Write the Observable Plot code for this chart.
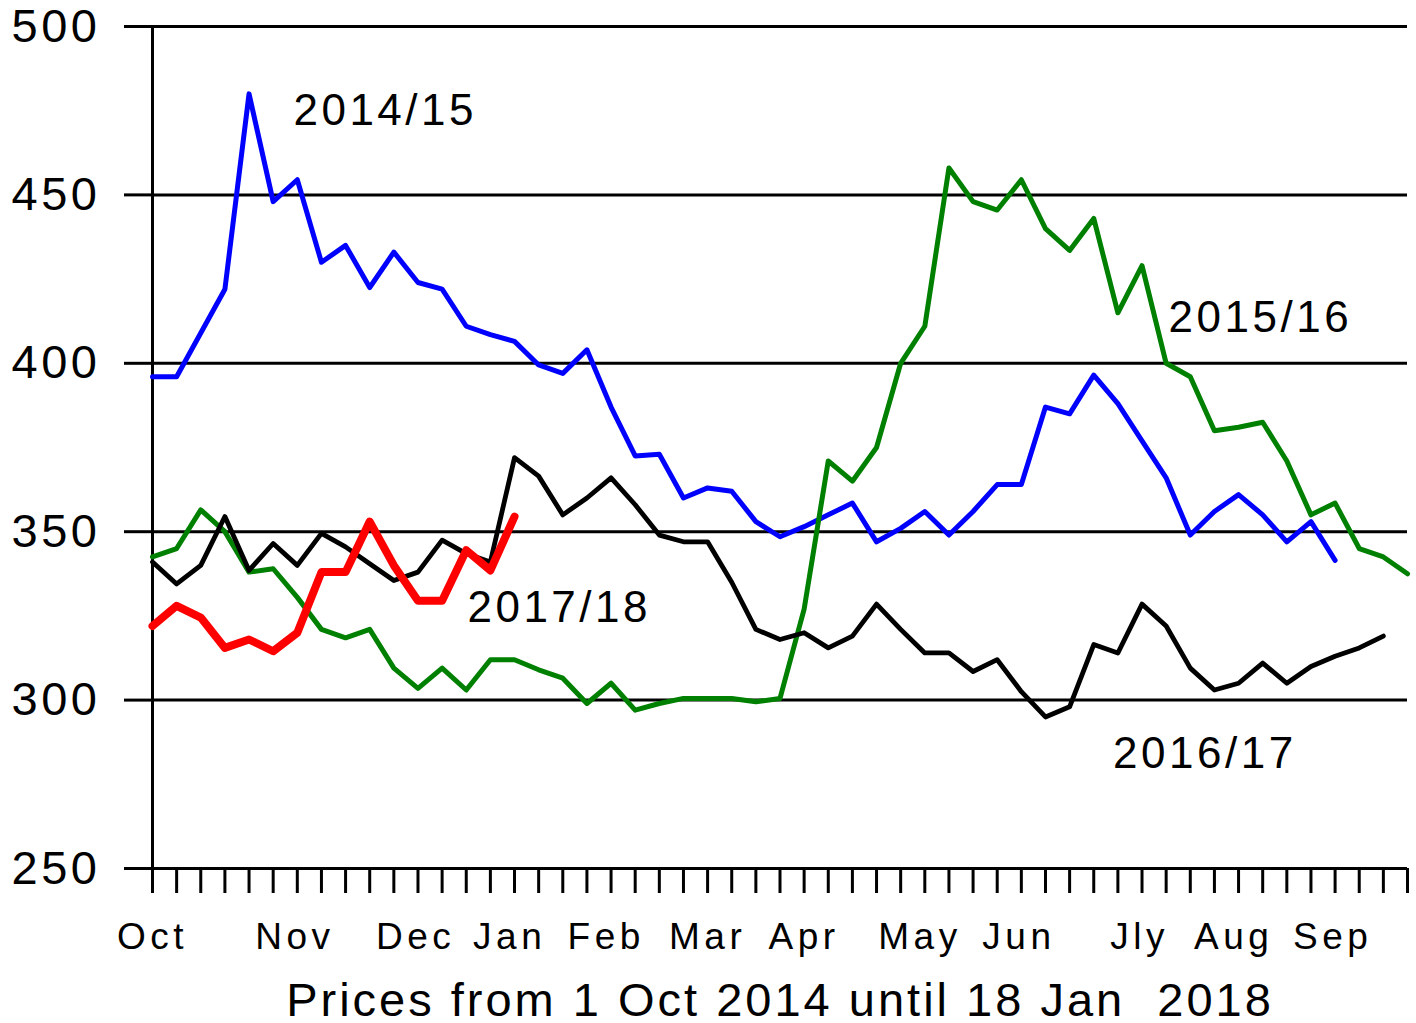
<!DOCTYPE html>
<html>
<head>
<meta charset="utf-8">
<script src="https://cdn.jsdelivr.net/npm/d3@7"></script>
<script src="https://cdn.jsdelivr.net/npm/@observablehq/plot@0.6"></script>
<style>
  html, body { margin: 0; padding: 0; background: #ffffff; }
  svg { letter-spacing: 3.5px; }
</style>
</head>
<body>
<div id="chart"></div>
<script>
// Weekly price series, week 0 = start of October
const weeks = d3.range(53);
const yTicks = [250, 300, 350, 400, 450, 500];
const months = ["Oct", "Nov", "Dec", "Jan", "Feb", "Mar", "Apr", "May", "Jun", "Jly", "Aug", "Sep"];
const monthWeek = [0, 5.9, 10.9, 14.8, 18.8, 23, 27, 31.8, 35.9, 40.9, 44.8, 48.9];

const p1415 = [396, 396, 409, 422, 480, 448, 454.5, 430, 435, 422.5, 433, 424, 422, 411, 408.5, 406.5,
  399.5, 397, 404, 387, 372.5, 373, 360, 363, 362, 353, 348.5, 351.5, 355, 358.5, 347, 351, 356, 349,
  356, 364, 364, 387, 385, 396.5, 388, 377, 366, 349, 356, 361, 355, 347, 353, 341.5];

const p1516 = [342.5, 345, 356.5, 350, 338, 339, 330.5, 321, 318.5, 321, 309.5, 303.5, 309.5, 303, 312, 312,
  309, 306.5, 299, 305, 297, 299, 300.5, 300.5, 300.5, 299.5, 300.5, 327, 371, 365, 375, 400, 411, 458,
  448, 445.5, 454.5, 440, 433.5, 443, 415, 429, 400, 396, 380, 381, 382.5, 371, 355, 358.5, 345, 342.5, 337.5];

const p1617 = [341, 334.5, 340, 354.5, 338.5, 346.5, 340, 349.5, 345.5, 340.5, 335.5, 338, 347.5, 343.5, 341, 372,
  366.5, 355, 360, 366, 358, 349, 347, 347, 335, 321, 318, 320, 315.5, 319, 328.5, 321, 314, 314,
  308.5, 312, 302.5, 295, 298, 316.5, 314, 328.5, 322, 309.5, 303, 305, 311, 305, 310, 313, 315.5, 319];

const p1718 = [322, 328, 324.5, 315.5, 318, 314.5, 320, 338, 338, 353, 340, 329.5, 329.5, 344.5, 338.5, 354.5];

const seasons = ["2014/15", "2015/16", "2016/17", "2017/18"];
const seasonColors = ["#0000ff", "#008000", "#000000", "#ff0000"];
const labelWeek = [5.84, 42.1, 39.8, 13.05];
const labelPrice = [470.9, 409.3, 279.8, 323.2];

const caption = "Prices from 1 Oct 2014 until 18 Jan  2018";

const chart = Plot.plot({
  width: 1416,
  height: 1023,
  marginLeft: 152,
  marginRight: 9,
  marginTop: 26,
  marginBottom: 155,
  x: {domain: [0, 52]},
  y: {domain: [250, 500]},
  style: {fontFamily: "'Liberation Sans', Arial, sans-serif", background: "#ffffff", color: "#000000", overflow: "visible"},
  marks: [
    Plot.gridY(yTicks, {stroke: "#000000", strokeOpacity: 1, strokeWidth: 3}),
    Plot.axisY(yTicks, {tickSize: 28, tickPadding: 24, fontSize: 47, strokeWidth: 3, label: null, tickFormat: d => String(d)}),
    Plot.axisX(weeks, {tickSize: 25, strokeWidth: 3, tickFormat: () => "", label: null}),
    Plot.ruleX([0], {y1: 250, y2: 500, stroke: "#000000", strokeWidth: 3}),
    Plot.lineY(p1415, {stroke: seasonColors[0], strokeWidth: 5}),
    Plot.lineY(p1516, {stroke: seasonColors[1], strokeWidth: 5}),
    Plot.lineY(p1617, {stroke: seasonColors[2], strokeWidth: 4.8}),
    Plot.lineY(p1718, {stroke: seasonColors[3], strokeWidth: 8}),
    Plot.text(seasons, {x: labelWeek, y: labelPrice, text: d => d, textAnchor: "start", lineAnchor: "bottom", fontSize: 44, fill: "#000000"}),
    Plot.text(months, {x: monthWeek, text: d => d, frameAnchor: "bottom", dy: 80, lineAnchor: "bottom", fontSize: 37, fill: "#000000"}),
    Plot.text([caption], {text: d => d, frameAnchor: "bottom", dy: 147, lineAnchor: "bottom", fontSize: 47, fill: "#000000"})
  ]
});

const sel = d3.select(chart).selectAll("text");
sel.filter(function() { return months.includes(this.textContent); })
  .attr("letter-spacing", 4.5);
sel.filter(function() { return this.textContent === caption; })
  .attr("letter-spacing", 3);

document.getElementById("chart").appendChild(chart);
</script>
</body>
</html>
